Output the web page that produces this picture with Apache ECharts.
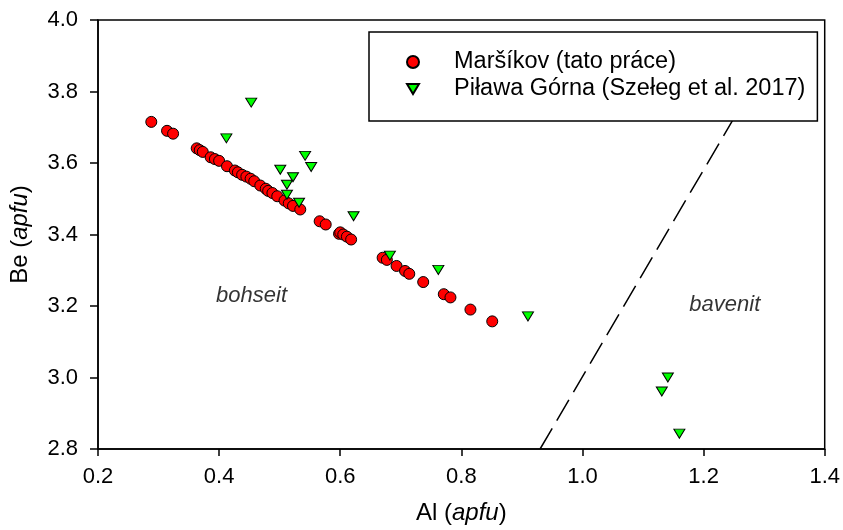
<!DOCTYPE html>
<html lang="cs">
<head>
    <meta charset="UTF-8">
    <title>Be vs Al</title>
    <script src="https://cdn.jsdelivr.net/npm/echarts@6/dist/echarts.min.js"></script>
    <style>
        html, body { margin: 0; height: 100%; background: #fff; }
        #app { width: 843px; height: 530px; }
    </style>
</head>
<body>
<div id="app"></div>
<script>
    // Maršíkov (tato práce)
    var marsikovAl = [0.288, 0.314, 0.324, 0.363, 0.368, 0.373, 0.386, 0.393, 0.400, 0.413, 0.426, 0.431,
        0.438, 0.445, 0.452, 0.458, 0.468, 0.477, 0.481, 0.488, 0.496, 0.508, 0.515, 0.522, 0.534,
        0.566, 0.576, 0.598, 0.600, 0.605, 0.611, 0.618, 0.670, 0.677, 0.693, 0.707, 0.714, 0.737,
        0.771, 0.782, 0.815, 0.851];
    var marsikovBe = [3.715, 3.690, 3.682, 3.641, 3.636, 3.631, 3.616, 3.611, 3.606, 3.591, 3.579, 3.574,
        3.567, 3.562, 3.556, 3.549, 3.537, 3.528, 3.522, 3.516, 3.507, 3.495, 3.487, 3.480, 3.470,
        3.437, 3.428, 3.402, 3.406, 3.400, 3.394, 3.386, 3.335, 3.329, 3.312, 3.298, 3.290, 3.267,
        3.233, 3.224, 3.190, 3.157];

    // Piława Górna (Szełeg et al. 2017)
    var pilawaAl = [0.453, 0.412, 0.501, 0.542, 0.552, 0.522, 0.512, 0.512, 0.532, 0.622, 0.682, 0.762,
        0.910, 1.141, 1.131, 1.160];
    var pilawaBe = [3.769, 3.669, 3.581, 3.620, 3.589, 3.560, 3.539, 3.511, 3.489, 3.451, 3.341, 3.301,
        3.171, 3.000, 2.961, 2.843];

    // hranice bohseit / bavenit (konec schovaný pod legendou)
    var boundaryAl = [0.93, 1.30];
    var boundaryBe = [2.8, 3.87];

    var fieldNames = ['bohseit', 'bavenit'];
    var fieldAl = [0.4535, 1.235];
    var fieldBe = [3.228, 3.203];

    var seriesNames = ['Maršíkov (tato práce)', 'Piława Górna (Szełeg et al. 2017)'];

    function pairs(xs, ys) {
        var out = [];
        for (var i = 0; i < xs.length; i++) {
            out.push([xs[i], ys[i]]);
        }
        return out;
    }

    var fieldData = [];
    for (var i = 0; i < fieldNames.length; i++) {
        fieldData.push({ name: fieldNames[i], value: [fieldAl[i], fieldBe[i]] });
    }

    var font = 'Liberation Sans, Arial, sans-serif';
    var downTriangle = 'path://M0,0L20,0L10,17Z';

    var option = {
        animation: false,
        grid: {
            left: 98, right: 17, top: 20, bottom: 78,
            show: true, borderColor: '#000', borderWidth: 1.5
        },
        legend: {
            data: seriesNames,
            orient: 'vertical',
            left: 369,
            top: 32,
            padding: [18, 12, 20, 37],
            itemGap: 3,
            itemWidth: 12,
            itemHeight: 12,
            backgroundColor: '#fff',
            borderColor: '#000',
            borderWidth: 1.5,
            borderRadius: 0,
            z: 10,
            textStyle: {
                fontFamily: font,
                fontSize: 23.5,
                lineHeight: 22,
                color: '#000',
                padding: [0, 0, 0, 30]
            }
        },
        xAxis: {
            type: 'value',
            min: 0.2,
            max: 1.4,
            interval: 0.2,
            name: '{n|Al (}{i|apfu}{n|)}',
            nameLocation: 'middle',
            nameGap: 52,
            nameTextStyle: {
                rich: {
                    n: { fontFamily: font, fontSize: 24, color: '#000' },
                    i: { fontFamily: font, fontSize: 24, fontStyle: 'italic', color: '#000' }
                }
            },
            splitLine: { show: false },
            axisLine: { onZero: false, lineStyle: { color: '#000', width: 1.5 } },
            axisTick: { inside: false, length: 7, lineStyle: { color: '#000', width: 1.5 } },
            axisLabel: {
                margin: 17,
                fontFamily: font,
                fontSize: 22,
                color: '#000',
                formatter: function (v) { return v.toFixed(1); }
            }
        },
        yAxis: {
            type: 'value',
            min: 2.8,
            max: 4.0,
            interval: 0.2,
            name: '{n|Be (}{i|apfu}{n|)}',
            nameLocation: 'middle',
            nameGap: 66,
            nameRotate: 90,
            nameTextStyle: {
                rich: {
                    n: { fontFamily: font, fontSize: 24, color: '#000' },
                    i: { fontFamily: font, fontSize: 24, fontStyle: 'italic', color: '#000' }
                }
            },
            splitLine: { show: false },
            axisLine: { onZero: false, lineStyle: { color: '#000', width: 1.5 } },
            axisTick: { inside: false, length: 8, lineStyle: { color: '#000', width: 1.5 } },
            axisLabel: {
                margin: 20,
                fontFamily: font,
                fontSize: 22,
                color: '#000',
                formatter: function (v) { return v.toFixed(1); }
            }
        },
        series: [
            {
                name: 'boundary',
                type: 'line',
                data: pairs(boundaryAl, boundaryBe),
                symbol: 'none',
                silent: true,
                z: 1,
                lineStyle: { color: '#000', width: 1.5, type: [24, 9] }
            },
            {
                name: 'fields',
                type: 'scatter',
                data: fieldData,
                symbolSize: 0,
                silent: true,
                z: 1,
                label: {
                    show: true,
                    position: 'inside',
                    formatter: '{b}',
                    fontFamily: font,
                    fontSize: 22,
                    fontStyle: 'italic',
                    color: '#000'
                }
            },
            {
                name: seriesNames[0],
                type: 'scatter',
                data: pairs(marsikovAl, marsikovBe),
                symbol: 'circle',
                symbolSize: 11,
                z: 3,
                itemStyle: { color: '#ff0000', borderColor: '#000', borderWidth: 1, opacity: 1 }
            },
            {
                name: seriesNames[1],
                type: 'scatter',
                data: pairs(pilawaAl, pilawaBe),
                symbol: downTriangle,
                symbolSize: [11, 9],
                z: 4,
                itemStyle: { color: '#00ff00', borderColor: '#000', borderWidth: 1, opacity: 1 }
            }
        ]
    };

    var myChart = echarts.init(document.getElementById('app'), null, { renderer: 'canvas' });
    myChart.setOption(option);
</script>
</body>
</html>
